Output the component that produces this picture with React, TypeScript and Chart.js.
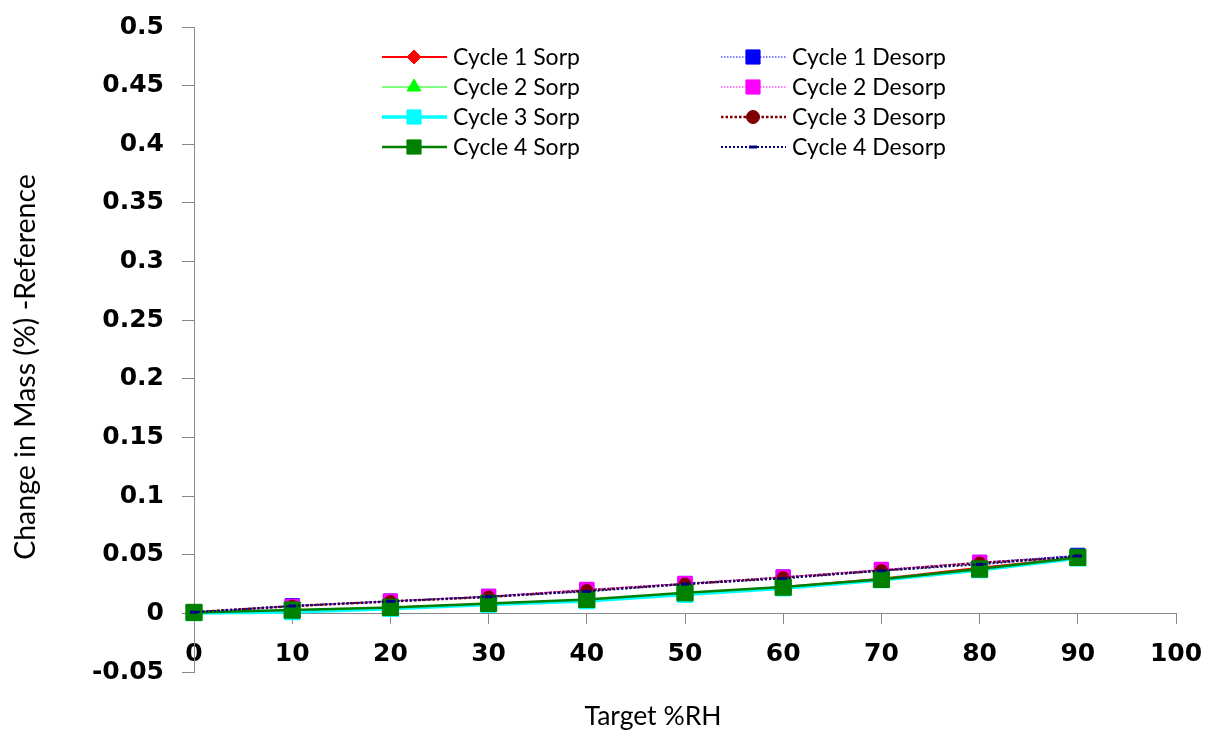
import React, { useEffect, useRef } from 'react';
import { Chart, registerables } from 'chart.js';
import { drawPoint } from 'chart.js/helpers';

Chart.register(...registerables);

// ---- data ----
const targetRH = [0, 10, 20, 30, 40, 50, 60, 70, 80, 90];

const cycle1Sorp = [0.0008, 0.002, 0.0048, 0.0082, 0.0115, 0.017, 0.0225, 0.0295, 0.039, 0.0475];
const cycle1Desorp = [0.001, 0.0065, 0.0105, 0.0145, 0.02, 0.0255, 0.031, 0.037, 0.0435, 0.0495];
const cycle2Sorp = [0.0008, 0.002, 0.005, 0.0083, 0.0117, 0.0172, 0.0222, 0.029, 0.0378, 0.047];
const cycle2Desorp = [0.001, 0.006, 0.0105, 0.0145, 0.0205, 0.0255, 0.031, 0.0375, 0.0435, 0.048];
const cycle3Sorp = [0.0004, 0.0012, 0.004, 0.0075, 0.0105, 0.016, 0.0215, 0.0285, 0.037, 0.047];
const cycle3Desorp = [0.001, 0.0062, 0.0102, 0.014, 0.0195, 0.025, 0.0305, 0.0365, 0.043, 0.048];
const cycle4Sorp = [0.0008, 0.0028, 0.0051, 0.0085, 0.0119, 0.0176, 0.0224, 0.029, 0.0378, 0.0477];
const cycle4Desorp = [0.001, 0.0063, 0.0102, 0.0142, 0.0187, 0.025, 0.0298, 0.0364, 0.0418, 0.049];

const seriesNames = [
  'Cycle 1 Sorp', 'Cycle 1 Desorp',
  'Cycle 2 Sorp', 'Cycle 2 Desorp',
  'Cycle 3 Sorp', 'Cycle 3 Desorp',
  'Cycle 4 Sorp', 'Cycle 4 Desorp',
];
const seriesValues = [
  cycle1Sorp, cycle1Desorp,
  cycle2Sorp, cycle2Desorp,
  cycle3Sorp, cycle3Desorp,
  cycle4Sorp, cycle4Desorp,
];

const xAxisTitle = 'Target %RH';
const yAxisTitle = 'Change in Mass (%) -Reference';
const xMin = 0, xMax = 100, xStep = 10;
const yMin = -0.05, yMax = 0.5, yStep = 0.05;

// ---- styles ----
const seriesStyles = [
  { color: '#FF0000', width: 2, dash: [], point: 'rectRot', radius: 6, legendRadius: 7 },
  { color: '#0000FF', width: 1, dash: [1.5, 1.5], point: 'rect', radius: 10, legendRadius: 10 },
  { color: '#00FF00', width: 1, dash: [], point: 'triangle', radius: 8, legendRadius: 8 },
  { color: '#FF00FF', width: 1, dash: [1.5, 1.5], point: 'rect', radius: 10, legendRadius: 10 },
  { color: '#00FFFF', width: 3.5, dash: [], point: 'rect', radius: 11, legendRadius: 10 },
  { color: '#800000', width: 2.5, dash: [2.5, 2], point: 'circle', radius: 6, legendRadius: 6.5 },
  { color: '#008000', width: 2.5, dash: [], point: 'rect', radius: 11.5, legendRadius: 10 },
  { color: '#000080', width: 2, dash: [2, 2], point: 'line', radius: 4, legendRadius: 4 },
];

const TEXT_FONT = 'Lato';
const TICK_FONT = 'DejaVu Sans';

const legendPlugin = {
  id: 'excelLegend',
  afterDraw(chart: any) {
    const ctx = chart.ctx as CanvasRenderingContext2D;
    chart.data.datasets.forEach((ds: any, i: number) => {
      const st = seriesStyles[i];
      const col = i % 2;
      const row = Math.floor(i / 2);
      const x0 = col === 0 ? 382 : 721;
      const y = 57 + row * 30;
      ctx.save();
      ctx.strokeStyle = st.color;
      ctx.lineWidth = st.width;
      ctx.setLineDash(st.dash);
      ctx.beginPath();
      ctx.moveTo(x0, y);
      ctx.lineTo(x0 + 65, y);
      ctx.stroke();
      ctx.setLineDash([]);
      ctx.fillStyle = st.color;
      ctx.strokeStyle = st.color;
      ctx.lineWidth = st.point === 'line' ? 3 : 1;
      drawPoint(ctx, { pointStyle: st.point, radius: st.legendRadius, borderWidth: st.point === 'line' ? 3 : 1, rotation: 0 } as any, x0 + 32, y);
      ctx.fillStyle = '#000';
      ctx.font = `23px ${TEXT_FONT}`;
      ctx.textAlign = 'left';
      ctx.textBaseline = 'middle';
      ctx.fillText(ds.label, x0 + 71, y + 1);
      ctx.restore();
    });
  },
};

const axisTitlePlugin = {
  id: 'axisTitles',
  afterDraw(chart: any) {
    const ctx = chart.ctx as CanvasRenderingContext2D;
    ctx.save();
    ctx.fillStyle = '#000';
    ctx.textAlign = 'center';
    ctx.textBaseline = 'middle';
    ctx.font = `26.5px ${TEXT_FONT}`;
    ctx.fillText(xAxisTitle, 653, 716);
    ctx.font = `28.5px ${TEXT_FONT}`;
    ctx.translate(26, 367);
    ctx.rotate(-Math.PI / 2);
    ctx.fillText(yAxisTitle, 0, 0);
    ctx.restore();
  },
};

export default function App() {
  const ref = useRef<HTMLCanvasElement>(null);
  useEffect(() => {
    if (!ref.current) return;
    const datasets = seriesNames.map((name, i) => {
      const st = seriesStyles[i];
      return {
        label: name,
        data: targetRH.map((x, k) => ({ x, y: seriesValues[i][k] })),
        borderColor: st.color,
        backgroundColor: st.color,
        borderWidth: st.width,
        borderDash: st.dash,
        pointStyle: st.point,
        pointRadius: st.radius,
        pointBackgroundColor: st.color,
        pointBorderColor: st.color,
        pointBorderWidth: st.point === 'line' ? 3 : 1,
        tension: 0,
        clip: false,
        order: seriesNames.length - i,
      };
    });
    const chart = new Chart(ref.current, {
      type: 'line',
      data: { datasets },
      plugins: [legendPlugin, axisTitlePlugin],
      options: {
        responsive: false,
        animation: false,
        events: [],
        layout: { padding: { top: 27, right: 33, bottom: 64, left: 0 } },
        plugins: {
          legend: { display: false },
          tooltip: { enabled: false },
          title: { display: false },
        },
        scales: {
          x: {
            type: 'linear',
            position: { y: 0 } as any,
            min: xMin,
            max: xMax,
            ticks: {
              stepSize: xStep,
              autoSkip: false,
              maxRotation: 0,
              color: '#000',
              padding: 16,
              font: { family: TICK_FONT, weight: 'bold', size: 25 },
            },
            grid: { drawOnChartArea: false, drawTicks: true, tickLength: 10, color: '#888888', lineWidth: 1 },
            border: { color: '#888888', width: 1 },
            afterFit: (s: any) => { s.paddingLeft = 0; s.paddingRight = 0; },
          },
          y: {
            type: 'linear',
            min: yMin,
            max: yMax,
            ticks: {
              stepSize: yStep,
              color: '#000',
              padding: 18,
              font: { family: TICK_FONT, weight: 'bold', size: 25 },
              callback: (v: any) => String(Math.round(Number(v) * 100) / 100),
            },
            grid: { drawOnChartArea: false, drawTicks: true, tickLength: 12, color: '#888888', lineWidth: 1 },
            border: { color: '#888888', width: 1 },
            afterFit: (s: any) => { s.width = 194; s.paddingTop = 0; s.paddingBottom = 0; },
          },
        },
      },
    } as any);
    return () => chart.destroy();
  }, []);
  return (
    <div style={{ position: 'absolute', left: 0, top: 0, width: 1209, height: 736, background: '#fff' }}>
      <canvas ref={ref} width={1209} height={736} />
    </div>
  );
}
